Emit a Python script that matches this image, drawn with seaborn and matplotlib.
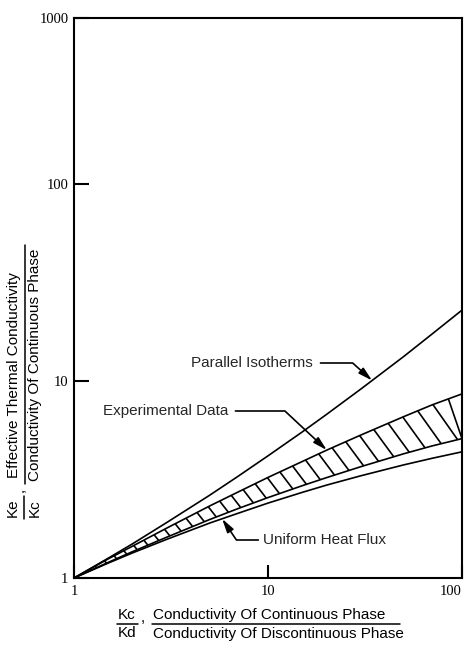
import numpy as np
import matplotlib
matplotlib.use("Agg")
import matplotlib.pyplot as plt
from matplotlib.collections import LineCollection
from matplotlib.lines import Line2D
import seaborn as sns

# Conductivity ratio Kc/Kd
ratio = [1, 1.5, 2, 3, 5, 7, 10, 15, 20, 30, 50, 70, 100]
# Effective conductivity ratio Ke/Kc for each model / bound
parallel_isotherms = [1.0, 1.26, 1.49, 1.91, 2.63, 3.28, 4.17, 5.51, 6.76, 9.08, 13.3, 17.3, 22.9]
experimental_upper = [1.0, 1.25, 1.45, 1.79, 2.32, 2.73, 3.24, 3.90, 4.45, 5.31, 6.59, 7.56, 8.60]
experimental_lower = [1.0, 1.20, 1.36, 1.61, 1.98, 2.25, 2.56, 2.94, 3.23, 3.67, 4.27, 4.68, 5.10]
uniform_heat_flux = [1.0, 1.19, 1.34, 1.57, 1.90, 2.13, 2.40, 2.72, 2.96, 3.30, 3.75, 4.05, 4.37]

x_ticks = [1, 10, 100]
x_tick_labels = ["1", "10", "100"]
y_tick_labels = ["1", "10", "100", "1000"]

sns.set_theme(style="white")
plt.rcParams["font.family"] = ["Liberation Sans", "DejaVu Sans"]

W, H = 465, 647
fig = plt.figure(figsize=(W / 100, H / 100), dpi=100)


def fx(px):
    return px / W


def fy(py):
    return 1 - py / H


ax = fig.add_axes([fx(74), fy(578), (462 - 74) / W, (578 - 18) / H])
ax.set_xscale("log")
ax.set_yscale("log")
y_top = 10 ** (2 + 166 / 197)
ax.set_xlim(1, 100)
ax.set_ylim(1, y_top)

line_kw = dict(color="black", linewidth=1.2, legend=False)
for series in (parallel_isotherms, experimental_upper, experimental_lower, uniform_heat_flux):
    sns.lineplot(x=ratio, y=series, ax=ax, **line_kw)

# Hatching across the experimental band
lr = np.log10(ratio)
lu = np.log10(experimental_upper)
ll = np.log10(experimental_lower)
dec_x, dec_y = 194.0, 197.0
segs = []
px = 86.0
while px < 460:
    u0 = (px - 74) / dec_x
    top = np.interp(u0, lr, lu)
    bot0 = np.interp(u0, lr, ll)
    d = 0.6 * (top - bot0) * dec_y / dec_x
    u1 = min(u0 + d, 2.0)
    bot = np.interp(u1, lr, ll)
    segs.append([(10 ** u0, 10 ** top), (10 ** u1, 10 ** bot)])
    px += 9 + 0.018 * (px - 74)
ax.add_collection(LineCollection(segs, colors="black", linewidths=1.2))

# Axes frame and ticks
for s in ax.spines.values():
    s.set_visible(True)
    s.set_color("black")
    s.set_linewidth(1.5)
ax.xaxis.set_major_locator(matplotlib.ticker.FixedLocator(x_ticks))
ax.xaxis.set_minor_locator(matplotlib.ticker.NullLocator())
ax.yaxis.set_major_locator(matplotlib.ticker.FixedLocator([1, 10, 100, y_top]))
ax.yaxis.set_minor_locator(matplotlib.ticker.NullLocator())
ax.set_xticklabels(x_tick_labels)
ax.set_yticklabels(y_tick_labels)
ax.tick_params(axis="x", bottom=True, direction="in", length=9.5, width=1.5, pad=5, colors="black")
ax.tick_params(axis="y", left=True, direction="in", length=11, width=1.5, pad=4, colors="black")
for lab in ax.get_xticklabels() + ax.get_yticklabels():
    lab.set_fontfamily(["Liberation Serif", "DejaVu Serif"])
    lab.set_fontsize(10.5)
ax.get_xticklabels()[-1].set_horizontalalignment("right")
ax.get_xticklabels()[-1].set_x(1.0)

# Callouts
def tip(curve, xv):
    return 10 ** np.interp(np.log10(xv), lr, np.log10(curve))


fs = 11
arrow = "-|>,head_length=0.75,head_width=0.2"
x_par = 34.4
ax.annotate("Parallel Isotherms", xy=(x_par, tip(parallel_isotherms, x_par)), xycoords="data",
            xytext=(fx(313), fy(363)), textcoords="figure fraction", ha="right", va="center",
            fontsize=fs,
            arrowprops=dict(arrowstyle=arrow, color="black", lw=1.2, shrinkA=3, shrinkB=0,
                            connectionstyle="angle,angleA=0,angleB=-42,rad=0"))
x_exp = 20.1
ax.annotate("Experimental Data", xy=(x_exp, tip(experimental_upper, x_exp)), xycoords="data",
            xytext=(fx(228), fy(411)), textcoords="figure fraction", ha="right", va="center",
            fontsize=fs,
            arrowprops=dict(arrowstyle=arrow, color="black", lw=1.2, shrinkA=3, shrinkB=0,
                            connectionstyle="angle,angleA=0,angleB=-43,rad=0"))
x_uni = 5.8
ax.annotate("Uniform Heat Flux", xy=(x_uni, tip(uniform_heat_flux, x_uni)), xycoords="data",
            xytext=(fx(263), fy(540)), textcoords="figure fraction", ha="left", va="center",
            fontsize=fs,
            arrowprops=dict(arrowstyle=arrow, color="black", lw=1.2, shrinkA=1, shrinkB=0,
                            connectionstyle="angle,angleA=0,angleB=124,rad=0"))

# Axis titles built as fractions
def bar(x0, y0, x1, y1):
    fig.add_artist(Line2D([fx(x0), fx(x1)], [fy(y0), fy(y1)], transform=fig.transFigure,
                          color="black", linewidth=1.1))


tk = dict(fontsize=11, color="black")
# y axis
fig.text(fx(13), fy(508), "Ke", rotation=90, ha="center", va="center", **tk)
bar(24, 496, 24, 519)
fig.text(fx(35), fy(508), "Kc", rotation=90, ha="center", va="center", **tk)
fig.text(fx(20), fy(490), ",", rotation=90, ha="center", va="center", **tk)
fig.text(fx(14), fy(375), "Effective Thermal Conductivity", rotation=90, ha="center", va="center", **tk)
bar(25, 245, 25, 484)
fig.text(fx(35), fy(365), "Conductivity Of Continuous Phase", rotation=90, ha="center", va="center", **tk)
# x axis
fig.text(fx(127), fy(615), "Kc", ha="center", va="center", **tk)
bar(117, 624, 138, 624)
fig.text(fx(127), fy(633), "Kd", ha="center", va="center", **tk)
fig.text(fx(143), fy(618), ",", ha="center", va="center", **tk)
fig.text(fx(153), fy(615), "Conductivity Of Continuous Phase", ha="left", va="center", **tk)
bar(152, 624, 400, 624)
fig.text(fx(153), fy(634), "Conductivity Of Discontinuous Phase", ha="left", va="center", **tk)

fig.savefig("out.png", dpi=100, facecolor="white")
